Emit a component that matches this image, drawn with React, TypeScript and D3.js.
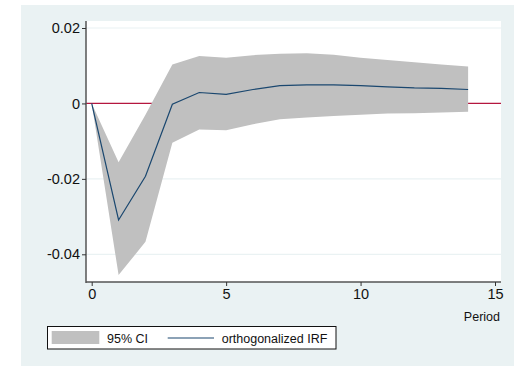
import { useEffect, useMemo, useRef } from 'react';
import * as d3 from 'd3';

const periods = [0, 1, 2, 3, 4, 5, 6, 7, 8, 9, 10, 11, 12, 13, 14];
const irf = [0, -0.0309, -0.0193, -0.0002, 0.0029, 0.0024, 0.0037, 0.0047, 0.0049, 0.0049, 0.0047, 0.0044, 0.0041, 0.004, 0.0037];
const ciLower = [0, -0.0455, -0.0367, -0.0104, -0.0069, -0.0071, -0.0055, -0.0042, -0.0037, -0.0033, -0.003, -0.0027, -0.0026, -0.0024, -0.0022];
const ciUpper = [0, -0.0156, -0.003, 0.0103, 0.0126, 0.0121, 0.0128, 0.0132, 0.0133, 0.0129, 0.0121, 0.0115, 0.0109, 0.0103, 0.0098];
const xTicks = [0, 5, 10, 15];
const yTicks = [0.02, 0, -0.02, -0.04];
const legendLabels = ['95% CI', 'orthogonalized IRF'];

const W = 515;
const H = 366;
const plot = { left: 86, right: 501, top: 21, bottom: 282 };
const FONT = '"Liberation Sans", Arial, sans-serif';
const BG = '#eaf2f3';

export default function App() {
    const xAxisEl = useRef<SVGGElement>(null);
    const yAxisEl = useRef<SVGGElement>(null);

    const x = useMemo(() => d3.scaleLinear().domain([0, 15]).range([91.7, 495]), []);
    const y = useMemo(() => d3.scaleLinear().domain([-0.04, 0.02]).range([254.3, 28]), []);

    const band = d3
        .area<number>()
        .x((d) => x(d))
        .y0((_d, i) => y(ciLower[i]))
        .y1((_d, i) => y(ciUpper[i]));
    const line = d3
        .line<number>()
        .x((d) => x(d))
        .y((_d, i) => y(irf[i]));

    useEffect(() => {
        if (xAxisEl.current) {
            d3.select(xAxisEl.current)
                .call(d3.axisBottom(x).tickValues(xTicks).tickSize(4).tickPadding(3).tickFormat((d) => `${d}`))
                .call((g) => g.select('.domain').remove())
                .call((g) => g.selectAll('.tick line').attr('stroke', '#333'))
                .call((g) =>
                    g.selectAll('.tick text').attr('font-family', FONT).attr('font-size', 14.5).attr('fill', '#111')
                );
        }
        if (yAxisEl.current) {
            d3.select(yAxisEl.current)
                .call(
                    d3
                        .axisLeft(y)
                        .tickValues(yTicks)
                        .tickSize(4)
                        .tickPadding(2)
                        .tickFormat((d) => (d === 0 ? '0' : d3.format('.2f')(d as number).replace('−', '-')))
                )
                .call((g) => g.select('.domain').remove())
                .call((g) => g.selectAll('.tick line').attr('stroke', '#333'))
                .call((g) =>
                    g.selectAll('.tick text').attr('font-family', FONT).attr('font-size', 14.5).attr('fill', '#111')
                );
        }
    }, [x, y]);

    return (
        <svg width={W} height={H} style={{ position: 'absolute', left: 0, top: 0 }}>
            <rect x={0} y={0} width={W} height={H} fill="white" />
            <rect x={21} y={5} width={493} height={361} fill={BG} />
            <rect x={plot.left} y={plot.top} width={plot.right - plot.left} height={plot.bottom - plot.top} fill="white" />
            {yTicks
                .filter((t) => t !== 0)
                .map((t) => (
                    <line key={t} x1={plot.left} x2={plot.right} y1={y(t)} y2={y(t)} stroke={BG} strokeWidth={1.2} />
                ))}
            {/* reference line sits under the CI band */}
            <line x1={plot.left} x2={plot.right} y1={y(0)} y2={y(0)} stroke="#b5173f" strokeWidth={1.2} />
            <path d={band(periods) ?? ''} fill="#c0c0c0" />
            <path d={line(periods) ?? ''} fill="none" stroke="#1a476f" strokeWidth={1.2} />
            <line x1={plot.left} x2={plot.left} y1={plot.top} y2={plot.bottom + 1} stroke="#555" strokeWidth={1.5} />
            <line x1={plot.left} x2={plot.right} y1={plot.bottom} y2={plot.bottom} stroke="#555" strokeWidth={1.5} />
            <g ref={xAxisEl} transform={`translate(0, ${plot.bottom})`} />
            <g ref={yAxisEl} transform={`translate(${plot.left}, 0)`} />
            <text x={500} y={321} textAnchor="end" fontFamily={FONT} fontSize={12.5} fill="#111">
                Period
            </text>
            <g>
                <rect x={47.5} y={326.5} width={288.5} height={22.5} fill="white" stroke="#111" strokeWidth={1} />
                <rect x={51.7} y={331} width={47.6} height={13} fill="#c0c0c0" />
                <text x={107} y={342.5} fontFamily={FONT} fontSize={12.5} fill="#111">
                    {legendLabels[0]}
                </text>
                <line x1={167.7} x2={214} y1={338} y2={338} stroke="#1a476f" strokeWidth={1.2} />
                <text x={221.7} y={342.5} fontFamily={FONT} fontSize={12.5} fill="#111">
                    {legendLabels[1]}
                </text>
            </g>
        </svg>
    );
}
